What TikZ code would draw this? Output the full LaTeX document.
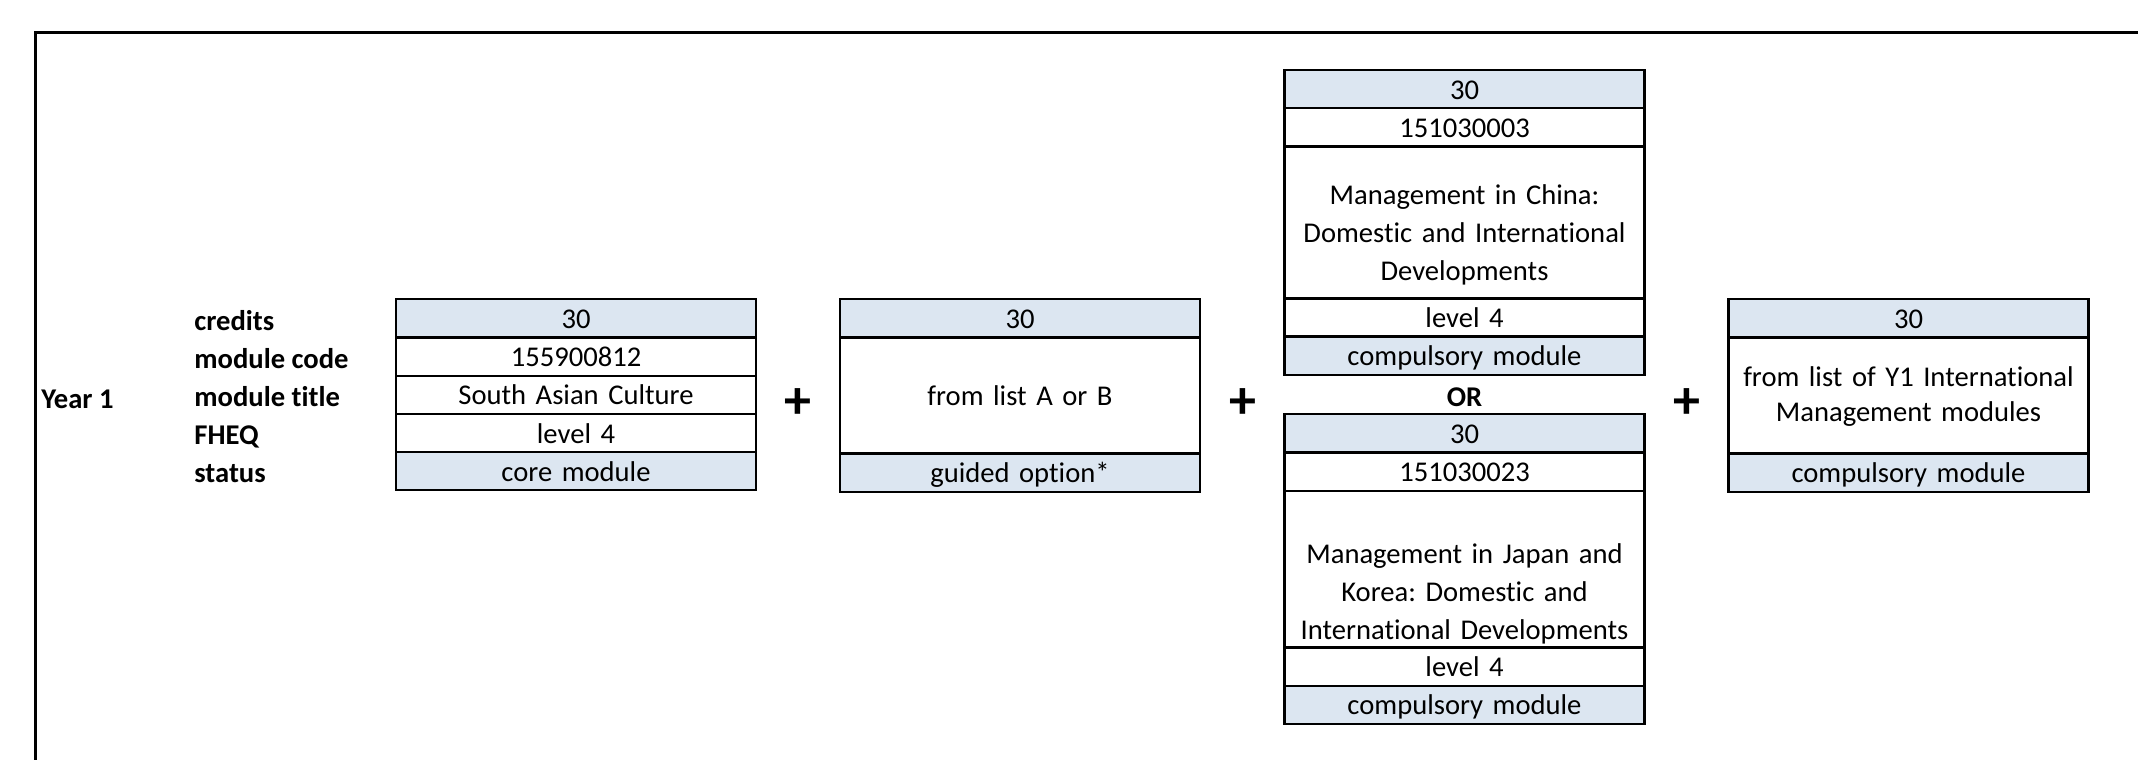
\documentclass[tikz,border=0pt]{standalone}
\usepackage{fontspec}
\setmainfont{Carlito}[Ligatures=NoCommon]
\usepackage{tikz}
\usetikzlibrary{positioning}
\definecolor{CellBlue}{RGB}{220,230,241}
\frenchspacing

\begin{document}
\begin{tikzpicture}[
  x=0.5pt, y=-0.5pt,
  every node/.style={font=\fontsize{14.3}{19}\selectfont},
  cell/.style={draw, line width=1.15pt, outer sep=0pt, minimum width=180pt,
    minimum height=19.1pt, inner xsep=1pt, inner ysep=0.5pt, text width=178pt,
    align=center, text height=13.6pt, text depth=3.5pt},
  tint/.style={fill=CellBlue},
  rowlabel/.style={anchor=base west, inner sep=0pt, yshift=-5.8pt,
    font=\fontsize{14.3}{19}\selectfont\bfseries},
  plus/.style={inner sep=0pt, font=\fontsize{27}{27}\selectfont\bfseries}
]
  \useasboundingbox (0,0) rectangle (2138,760);

  \coordinate (fbl) at (35.5,760);
  \coordinate (ftl) at (35.5,32.5);
  \coordinate (ftr) at (2138,32.5);
  \coordinate (labx) at (194,0);
  \coordinate (m1top) at (576,299.3);
  \coordinate (m2top) at (1020,299.3);
  \coordinate (m3top) at (1464.5,70);
  \coordinate (m3btop) at (1464.5,414.3);
  \coordinate (m4top) at (1908.5,299.3);

  % Frame (only top and left edges show)
  \draw[line width=1.4pt] (fbl) -- (ftl) -- (ftr);

  % Module 1: core
  \node[cell, tint, anchor=north] (m1credits) at (m1top) {30};
  \node[cell, below=0pt of m1credits] (m1code) {155900812};
  \node[cell, below=0pt of m1code] (m1title) {South Asian Culture};
  \node[cell, below=0pt of m1title] (m1fheq) {level 4};
  \node[cell, tint, below=0pt of m1fheq] (m1status) {core module};

  % Module 2: guided option
  \node[cell, tint, anchor=north] (m2credits) at (m2top) {30};
  \node[cell, minimum height=58pt, below=0pt of m2credits] (m2title) {from list A or B};
  \node[cell, tint, below=0pt of m2title] (m2status) {guided option*};

  % Module 3: China
  \node[cell, tint, anchor=north] (m3credits) at (m3top) {30};
  \node[cell, below=0pt of m3credits] (m3code) {151030003};
  \node[cell, minimum height=76pt, text height=23.5pt, text depth=41.5pt,
    below=0pt of m3code] (m3title)
    {Management in China:\\Domestic and International\\Developments};
  \node[cell, below=0pt of m3title] (m3fheq) {level 4};
  \node[cell, tint, below=0pt of m3fheq] (m3status) {compulsory module};

  \node[anchor=base, font=\fontsize{14.3}{19}\selectfont\bfseries] (or) at (1464.5,406) {OR};

  % Module 3b: Japan and Korea
  \node[cell, tint, anchor=north] (m3bcredits) at (m3btop) {30};
  \node[cell, below=0pt of m3bcredits] (m3bcode) {151030023};
  \node[cell, minimum height=78.4pt, text height=35.5pt, text depth=41.5pt,
    below=0pt of m3bcode] (m3btitle)
    {Management in Japan and\\Korea: Domestic and\\International Developments};
  \node[cell, below=0pt of m3btitle] (m3bfheq) {level 4};
  \node[cell, tint, below=0pt of m3bfheq] (m3bstatus) {compulsory module};

  % Module 4: Y1 list
  \node[cell, tint, anchor=north] (m4credits) at (m4top) {30};
  \node[cell, minimum height=58pt, text height=12.2pt, text depth=21pt,
    font=\fontsize{14.3}{17.5}\selectfont, below=0pt of m4credits] (m4title)
    {from list of Y1 International\\Management modules};
  \node[cell, tint, below=0pt of m4title] (m4status) {compulsory module};

  % Plus signs between modules
  \node[plus] (plus1) at (797.5,404) {+};
  \node[plus] (plus2) at (1243,404) {+};
  \node[plus] (plus3) at (1686.5,404) {+};

  % Row labels
  \node[rowlabel, yshift=-1pt] (year) at (41,0 |- m1title) {Year 1};
  \foreach \lab/\row in {credits/m1credits, module code/m1code, module title/m1title,
                         FHEQ/m1fheq, status/m1status}{
    \node[rowlabel] (lab-\row) at (labx |- \row) {\lab};
  }
\end{tikzpicture}
\end{document}
